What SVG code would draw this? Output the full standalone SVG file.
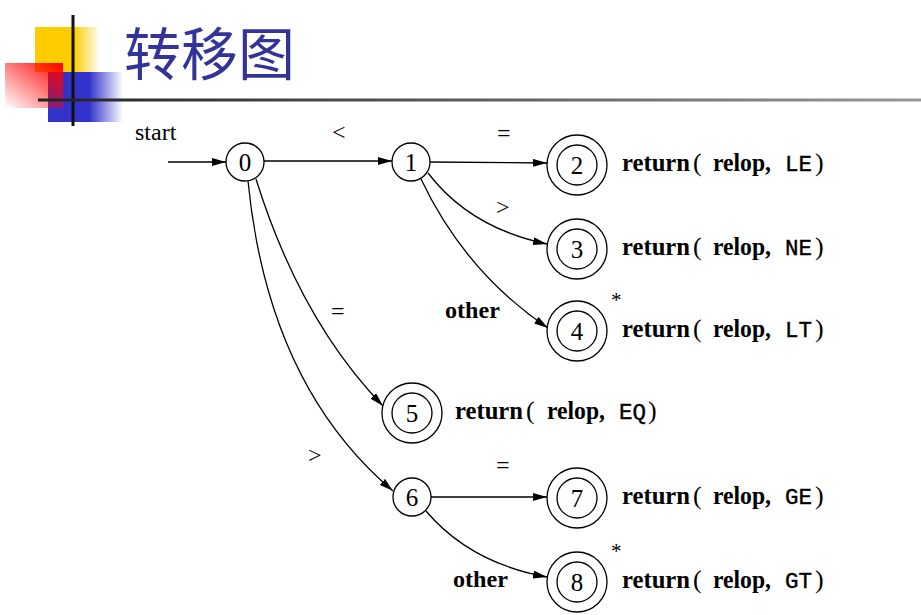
<svg xmlns="http://www.w3.org/2000/svg" width="921" height="615" viewBox="0 0 921 615">
<style>
.st{fill:#fff;stroke:#000;stroke-width:1.3}
.lbl{font-family:"Liberation Serif",serif;font-size:24px;fill:#000}
.ret{font-family:"Liberation Serif",serif;font-size:26px;fill:#000}
.b{font-weight:bold}
.num{font-family:"Liberation Serif",serif;font-size:25px;fill:#000;text-anchor:middle}
.mono{font-family:"Liberation Mono",monospace;font-size:22.5px;stroke:#000;stroke-width:0.4}
.edge{fill:none;stroke:#000;stroke-width:1.3}
</style>
<defs>
<marker id="ah" viewBox="0 0 14 8" refX="14" refY="4" markerWidth="14" markerHeight="8" markerUnits="userSpaceOnUse" orient="auto">
<path d="M0,0 L14,4 L0,8 Z" fill="#000"/>
</marker>
<linearGradient id="gy" x1="0" y1="0" x2="1" y2="0">
<stop offset="0" stop-color="#FFCC00"/><stop offset="0.6" stop-color="#FFCC00"/><stop offset="1" stop-color="#FFCC00" stop-opacity="0"/>
</linearGradient>
<linearGradient id="gb" x1="0" y1="0" x2="1" y2="0">
<stop offset="0" stop-color="#3333CC"/><stop offset="0.55" stop-color="#3333CC"/><stop offset="1" stop-color="#3333CC" stop-opacity="0"/>
</linearGradient>
<linearGradient id="gr" x1="0" y1="1" x2="1" y2="0">
<stop offset="0" stop-color="#FF0000" stop-opacity="0"/><stop offset="1" stop-color="#FF0000"/>
</linearGradient>
<linearGradient id="gl" x1="0" y1="0" x2="1" y2="0">
<stop offset="0" stop-color="#222"/><stop offset="1" stop-color="#999"/>
</linearGradient>
</defs>
<rect width="921" height="615" fill="#fff"/>
<g id="decoration">
<rect x="35" y="27" width="65" height="45" fill="url(#gy)"/>
<rect x="48" y="72" width="75" height="50" fill="url(#gb)"/>
<rect x="5" y="63" width="58" height="45" fill="url(#gr)"/>
<rect x="71.5" y="15" width="3" height="111" fill="#111"/>
<rect x="38" y="98.5" width="883" height="3" fill="url(#gl)"/>
</g>
<text id="title" x="124" y="75" font-family="'Noto Sans CJK SC',sans-serif" font-size="57" fill="#333399">转移图</text>
<g id="connectors">
<path class="edge" d="M168,162 L226,162" marker-end="url(#ah)"/>
<path class="edge" d="M264,161 L392,161" marker-end="url(#ah)"/>
<path class="edge" d="M430,162 L547,163" marker-end="url(#ah)"/>
<path class="edge" d="M428,173 Q470,228 547,244" marker-end="url(#ah)"/>
<path class="edge" d="M421,179 Q465,272 548,328" marker-end="url(#ah)"/>
<path class="edge" d="M256,179 Q300,320 383,406" marker-end="url(#ah)"/>
<path class="edge" d="M248,181 Q268,385 393,491" marker-end="url(#ah)"/>
<path class="edge" d="M431,497 L547,497" marker-end="url(#ah)"/>
<path class="edge" d="M426,511 Q470,563 547,577" marker-end="url(#ah)"/>
</g>
<g id="edge-labels" class="lbl">
<text x="135" y="140">start</text>
<text x="332" y="140">&lt;</text>
<text x="497" y="141">=</text>
<text x="496" y="215">&gt;</text>
<text x="445" y="318" class="b" textLength="55" lengthAdjust="spacingAndGlyphs">other</text>
<text x="331" y="319">=</text>
<text x="308" y="463">&gt;</text>
<text x="496" y="473">=</text>
<text x="453" y="587" class="b" textLength="55" lengthAdjust="spacingAndGlyphs">other</text>
<text x="611" y="307" font-size="21">*</text>
<text x="611" y="558" font-size="21">*</text>
</g>
<g id="n0"><circle class="st" cx="245" cy="162" r="19"/><text class="num" x="245" y="171">0</text></g>
<g id="n1"><circle class="st" cx="411" cy="162" r="19"/><text class="num" x="411" y="171">1</text></g>
<g id="n2"><circle class="st" cx="577" cy="165" r="30"/><circle class="st" cx="577" cy="165" r="20"/><text class="num" x="577" y="174">2</text>
<text class="ret" y="171"><tspan x="622" class="b" textLength="68" lengthAdjust="spacingAndGlyphs">return</tspan><tspan x="693">(</tspan><tspan x="713" class="b" textLength="58" lengthAdjust="spacingAndGlyphs">relop,</tspan><tspan x="785" class="mono">LE</tspan><tspan x="815">)</tspan></text></g>
<g id="n3"><circle class="st" cx="577" cy="249" r="30"/><circle class="st" cx="577" cy="249" r="20"/><text class="num" x="577" y="258">3</text>
<text class="ret" y="255"><tspan x="622" class="b" textLength="68" lengthAdjust="spacingAndGlyphs">return</tspan><tspan x="693">(</tspan><tspan x="713" class="b" textLength="58" lengthAdjust="spacingAndGlyphs">relop,</tspan><tspan x="785" class="mono">NE</tspan><tspan x="815">)</tspan></text></g>
<g id="n4"><circle class="st" cx="577" cy="331" r="30"/><circle class="st" cx="577" cy="331" r="20"/><text class="num" x="577" y="340">4</text>
<text class="ret" y="337"><tspan x="622" class="b" textLength="68" lengthAdjust="spacingAndGlyphs">return</tspan><tspan x="693">(</tspan><tspan x="713" class="b" textLength="58" lengthAdjust="spacingAndGlyphs">relop,</tspan><tspan x="785" class="mono">LT</tspan><tspan x="815">)</tspan></text></g>
<g id="n5"><circle class="st" cx="412" cy="413" r="30"/><circle class="st" cx="412" cy="413" r="20"/><text class="num" x="412" y="422">5</text>
<text class="ret" y="419"><tspan x="455" class="b" textLength="68" lengthAdjust="spacingAndGlyphs">return</tspan><tspan x="526">(</tspan><tspan x="547" class="b" textLength="58" lengthAdjust="spacingAndGlyphs">relop,</tspan><tspan x="619" class="mono">EQ</tspan><tspan x="648">)</tspan></text></g>
<g id="n6"><circle class="st" cx="412" cy="497" r="19"/><text class="num" x="412" y="506">6</text></g>
<g id="n7"><circle class="st" cx="577" cy="498" r="30"/><circle class="st" cx="577" cy="498" r="20"/><text class="num" x="577" y="507">7</text>
<text class="ret" y="504"><tspan x="622" class="b" textLength="68" lengthAdjust="spacingAndGlyphs">return</tspan><tspan x="693">(</tspan><tspan x="713" class="b" textLength="58" lengthAdjust="spacingAndGlyphs">relop,</tspan><tspan x="785" class="mono">GE</tspan><tspan x="815">)</tspan></text></g>
<g id="n8"><circle class="st" cx="577" cy="582" r="30"/><circle class="st" cx="577" cy="582" r="20"/><text class="num" x="577" y="591">8</text>
<text class="ret" y="588"><tspan x="622" class="b" textLength="68" lengthAdjust="spacingAndGlyphs">return</tspan><tspan x="693">(</tspan><tspan x="713" class="b" textLength="58" lengthAdjust="spacingAndGlyphs">relop,</tspan><tspan x="785" class="mono">GT</tspan><tspan x="815">)</tspan></text></g>
</svg>
